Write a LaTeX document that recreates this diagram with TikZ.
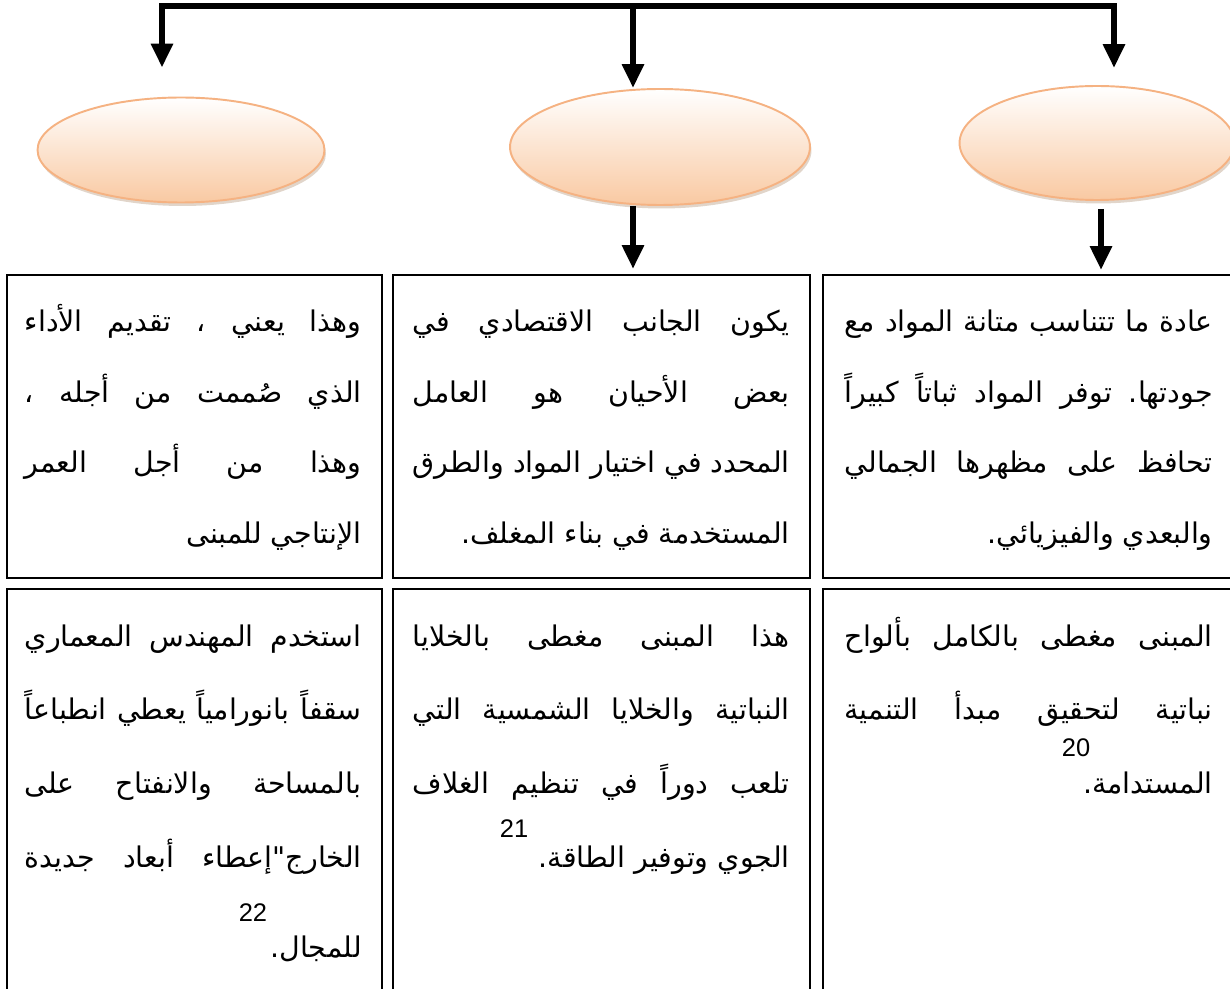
\documentclass[tikz,border=0pt]{standalone}
\usepackage{fontspec}
\usetikzlibrary{arrows.meta,shapes.geometric,shadows}
\newfontfamily\arabicfont[Script=Arabic]{DejaVu Sans}
\newfontfamily\latinfont{Liberation Sans}
\TeXXeTstate=1
\definecolor{peachline}{RGB}{245,178,130}
\definecolor{peachfill}{RGB}{249,201,162}
% one justified line, and the last (right aligned) line of a paragraph
\newcommand{\jl}[1]{\hbox to\hsize{\beginR #1\endR}}
\newcommand{\el}[1]{\hbox to\hsize{\hfil\beginR #1\endR}}
\newcommand{\fstop}{\hbox{.}}
\tikzset{
  oval/.style={ellipse, draw=peachline, line width=1.1pt, inner sep=0pt,
    top color=white, bottom color=peachfill,
    drop shadow={shadow xshift=0.03cm, shadow yshift=-0.07cm, fill=brown!70!black, opacity=0.25}},
  cell/.style={draw, line width=1.2pt, inner sep=0pt, anchor=north west},
  txt/.style={inner sep=0pt, anchor=base east, font=\arabicfont\fontsize{16.2}{16.2}\selectfont},
  num/.style={inner sep=0pt, font=\latinfont\fontsize{14.5}{14.5}\selectfont},
  bus/.style={line width=0.12cm, line cap=rect},
  arr/.style={line width=0.12cm, -{Triangle[width=0.42cm,length=0.48cm]}},
}
\begin{document}
\begin{tikzpicture}[x=0.02cm,y=-0.02cm]
\useasboundingbox (0,0) rectangle (1230,989);

% the three ovals
\node[oval, minimum width=5.74cm, minimum height=2.1cm] (oL) at (181,150) {};
\node[oval, minimum width=6.0cm, minimum height=2.32cm] (oM) at (660,147) {};
\node[oval, minimum width=5.5cm, minimum height=2.28cm] (oR) at (1097,143) {};

% bus on top
\coordinate (jL) at (162,6);
\coordinate (jM) at (633,6);
\coordinate (jR) at (1114,6);
\coordinate (dR) at (1101,6);
\draw[bus] (jL) -- (jR);
\draw[arr, shorten >=0.58cm] (jL) -- (jL |- oL.north);
\draw[arr] (jM) -- (jM |- oM.north);
\draw[arr, shorten >=0.34cm] (jR) -- (jR |- oR.north);

% boxes
\node[cell, minimum width=7.5cm, minimum height=6.06cm] (l1) at (6,274) {};
\node[cell, minimum width=8.34cm, minimum height=6.06cm] (m1) at (392,274) {};
\node[cell, minimum width=8.3cm, minimum height=6.06cm] (r1) at (822,274) {};
\node[cell, minimum width=7.5cm, minimum height=8.4cm] (l2) at (6,588) {};
\node[cell, minimum width=8.34cm, minimum height=8.4cm] (m2) at (392,588) {};
\node[cell, minimum width=8.3cm, minimum height=8.4cm] (r2) at (822,588) {};

\draw[arr, shorten >=0.1cm] (oM.south -| jM) -- (m1.north -| jM);
\draw[arr, shorten <=0.16cm, shorten >=0.08cm] (oR.south -| dR) -- (r1.north -| dR);

% texts, first row
\node[txt] (r1t) at (1213,332) {\vtop{\hsize=7.36cm \baselineskip=40.1pt
  \jl{عادة ما تتناسب متانة المواد مع}
  \jl{جودتها\fstop{} توفر المواد ثباتاً كبيراً}
  \jl{تحافظ على مظهرها الجمالي}
  \el{والبعدي والفيزيائي\fstop}}};
\node[txt] (m1t) at (790,332) {\vtop{\hsize=7.54cm \baselineskip=40.1pt
  \jl{يكون الجانب الاقتصادي في}
  \jl{بعض الأحيان هو العامل}
  \jl{المحدد في اختيار المواد والطرق}
  \el{المستخدمة في بناء المغلف\fstop}}};
\node[txt] (l1t) at (362,332) {\vtop{\hsize=6.74cm \baselineskip=40.1pt
  \jl{وهذا يعني ، تقديم الأداء}
  \jl{الذي صُممت من أجله ،}
  \jl{وهذا من أجل العمر}
  \el{الإنتاجي للمبنى}}};

% texts, second row
\node[txt] (r2t) at (1213,646) {\vtop{\hsize=7.36cm \baselineskip=42.1pt
  \jl{المبنى مغطى بالكامل بألواح}
  \jl{نباتية لتحقيق مبدأ التنمية}
  \el{المستدامة\fstop}}};
\node[txt] (m2t) at (790,646) {\vtop{\hsize=7.54cm \baselineskip=42.1pt
  \jl{هذا المبنى مغطى بالخلايا}
  \jl{النباتية والخلايا الشمسية التي}
  \jl{تلعب دوراً في تنظيم الغلاف}
  \el{الجوي وتوفير الطاقة\fstop}}};
\node[txt] (l2t) at (362,646) {\vtop{\hsize=6.74cm \baselineskip=42.1pt
  \jl{استخدم المهندس المعماري}
  \jl{سقفاً بانورامياً يعطي انطباعاً}
  \jl{بالمساحة والانفتاح على}
  \jl{الخارج\hbox{"}إعطاء أبعاد جديدة}
  \vskip 9pt
  \el{للمجال\fstop}}};

\node[num] (n20) at (1076,748) {20};
\node[num] (n21) at (514,829) {21};
\node[num] (n22) at (253,913) {22};
\end{tikzpicture}
\end{document}
